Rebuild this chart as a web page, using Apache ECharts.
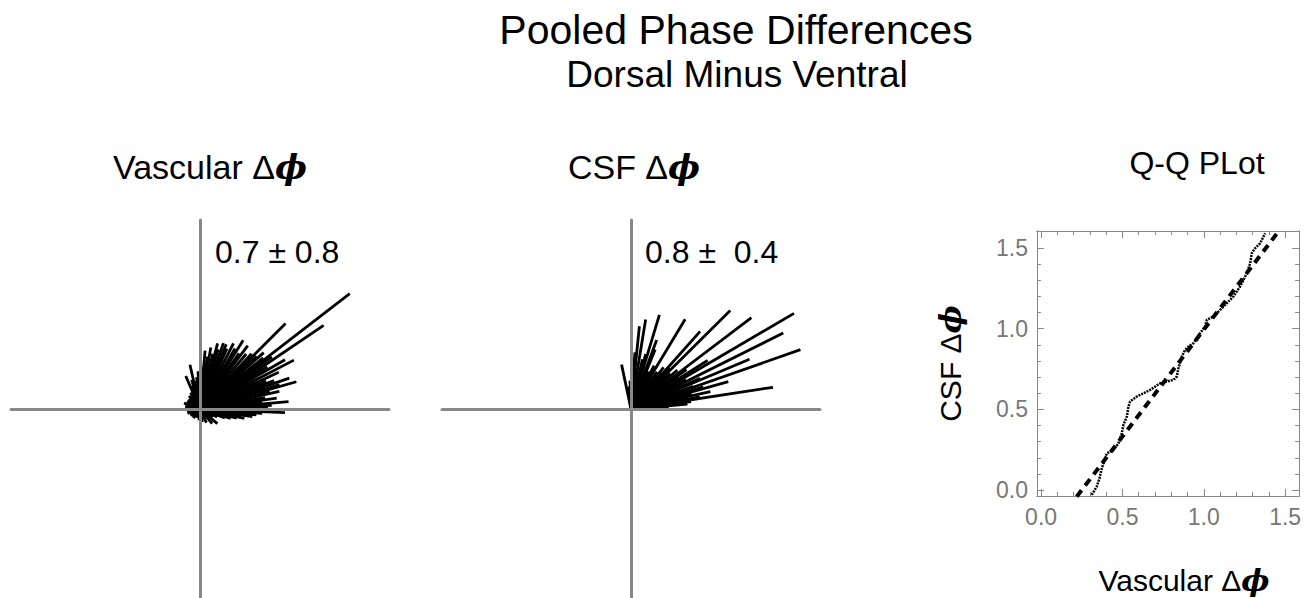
<!DOCTYPE html>
<html>
<head>
<meta charset="utf-8">
<script src="https://cdn.jsdelivr.net/npm/echarts@6/dist/echarts.min.js"></script>
<style>
html, body { margin: 0; padding: 0; background: #fff; }
#main { width: 1316px; height: 598px; }
</style>
</head>
<body>
<div id="main"></div>
<script>
// vascular phase differences: angle (deg) and length of each ray
const vascAngle = [37.6, 34.1, 45.0, 27.5, 30.1, 15.8, 19.1, 4.7, -2.5, 41.5, 12.5, 57.9, 63.0, 70.4, 85.0, 102.8, 113.4, -8.4,
  -30, -25, -20, -17, -14, -12, -10, -6, -4, -1, 1, 3, 6, 8, 10, 14, 17, 21, 23, 25, 32, 36, 39, 43,
  47, 50, 53, 55, 60, 66, 68, 73, 75, 77, 80, 82, 88, 90, 93, 96, 100, 106, 110,
  120, 130, 140, 150, 160, 170, 180, 190, 200, 210, 220, 235, 250, 265, 280, 295, 310, 320]
const vascLen = [1.0, 0.79, 0.64, 0.56, 0.52, 0.53, 0.5, 0.47, 0.45, 0.45, 0.43, 0.43, 0.39, 0.37, 0.31, 0.24, 0.19, 0.28,
  0.08, 0.1, 0.14, 0.17, 0.2, 0.24, 0.22, 0.3, 0.33, 0.38, 0.36, 0.38, 0.33, 0.41, 0.35, 0.38, 0.44, 0.42, 0.38, 0.46, 0.42, 0.47, 0.43, 0.41,
  0.4, 0.38, 0.42, 0.36, 0.37, 0.35, 0.37, 0.33, 0.36, 0.3, 0.33, 0.28, 0.22, 0.25, 0.2, 0.17, 0.15, 0.16, 0.13,
  0.1, 0.09, 0.08, 0.08, 0.09, 0.08, 0.08, 0.07, 0.07, 0.06, 0.06, 0.06, 0.05, 0.06, 0.07, 0.08, 0.1, 0.12]

// CSF phase differences
const csfAngle = [30.4, 19.3, 26.5, 37.2, 44.8, 8.7, 22.8, 15.7, 12.4, 32.4, 48.3, 58.9, 73.2, 80.7, 84.2, 69.6, 67.9, 102, 35.3,
  3, 5, 7, 10, 14, 17, 20, 24, 28, 34, 40, 42, 46, 50, 52, 55, 62, 65, 75, 77, 86, 88, 90, 92, 95, 98]
const csfLen = [1.0, 0.95, 0.9, 0.8, 0.74, 0.76, 0.68, 0.535, 0.43, 0.48, 0.55, 0.555, 0.52, 0.48, 0.44, 0.39, 0.34, 0.24, 0.36,
  0.2, 0.3, 0.32, 0.37, 0.33, 0.4, 0.35, 0.4, 0.33, 0.3, 0.32, 0.28, 0.3, 0.25, 0.28, 0.24, 0.26, 0.22, 0.3, 0.27, 0.3, 0.25, 0.2, 0.15, 0.12, 0.1]

// Q-Q plot: vascular quantiles vs CSF quantiles
const qqX = [0.311, 0.342, 0.359, 0.373, 0.393, 0.404, 0.445, 0.475, 0.496, 0.506, 0.527, 0.537, 0.547, 0.588, 0.629, 0.670,
  0.731, 0.772, 0.813, 0.834, 0.844, 0.865, 0.885, 0.906, 0.936, 0.977, 1.008, 1.018, 1.059, 1.100, 1.141, 1.182,
  1.223, 1.244, 1.264, 1.285, 1.295, 1.315, 1.346, 1.377]
const qqY = [-0.03, 0.021, 0.072, 0.134, 0.196, 0.227, 0.248, 0.289, 0.351, 0.403, 0.455, 0.517, 0.548, 0.579, 0.599, 0.620,
  0.661, 0.672, 0.682, 0.703, 0.754, 0.827, 0.868, 0.889, 0.909, 0.971, 1.013, 1.054, 1.075, 1.116, 1.157, 1.199,
  1.261, 1.302, 1.343, 1.405, 1.467, 1.498, 1.529, 1.591]
const refX = [0.219, 1.459]
const refY = [-0.041, 1.602]

const majorTicks = [0, 0.5, 1.0, 1.5]
const minorTicks = [0.1, 0.2, 0.3, 0.4, 0.6, 0.7, 0.8, 0.9, 1.1, 1.2, 1.3, 1.4]

const FONT = '"Liberation Sans", Arial, sans-serif'
const PHI = { fontFamily: '"DejaVu Serif", serif', fontStyle: 'italic', fontWeight: 'bold' }

function rays(angles, lens) {
  return angles.map((a, i) => {
    const t = a * Math.PI / 180
    return { coords: [[0, 0], [lens[i] * Math.cos(t), lens[i] * Math.sin(t)]] }
  })
}

function crossAxis(gridIndex) {
  return {
    gridIndex: gridIndex,
    type: 'value',
    min: -1,
    max: 1,
    z: 5,
    axisLine: { show: true, onZero: true, lineStyle: { color: '#888', width: 3 } },
    axisTick: { show: false },
    axisLabel: { show: false },
    splitLine: { show: false }
  }
}

function frameAxis(pos, min, max, ticks, len, labels) {
  return {
    gridIndex: 2,
    type: 'value',
    position: pos,
    min: min,
    max: max,
    axisLine: { show: true, onZero: false, lineStyle: { color: '#888', width: 1 } },
    axisTick: { show: true, inside: true, length: len, customValues: ticks, lineStyle: { color: '#888', width: 1 } },
    axisLabel: labels ? {
      show: true, customValues: majorTicks, formatter: v => v.toFixed(1),
      color: '#777', fontSize: 23, fontFamily: FONT, margin: 9
    } : { show: false },
    splitLine: { show: false }
  }
}

const chart = echarts.init(document.getElementById('main'), null, { renderer: 'svg' })

const XMIN = -0.025, XMAX = 1.585, YMIN = -0.037, YMAX = 1.605

const option = {
  animation: false,
  backgroundColor: '#fff',
  grid: [
    { left: 11, top: 220, width: 378, height: 378 },
    { left: 442, top: 220, width: 378, height: 378 },
    { left: 1037, top: 231, width: 262, height: 265 }
  ],
  xAxis: [
    crossAxis(0),
    crossAxis(1),
    frameAxis('bottom', XMIN, XMAX, majorTicks, 7, true),
    frameAxis('bottom', XMIN, XMAX, minorTicks, 4, false),
    frameAxis('top', XMIN, XMAX, majorTicks, 7, false),
    frameAxis('top', XMIN, XMAX, minorTicks, 4, false)
  ],
  yAxis: [
    crossAxis(0),
    crossAxis(1),
    Object.assign(frameAxis('left', YMIN, YMAX, majorTicks, 7, true), {
      name: 'CSF Δ{p|ϕ}',
      nameLocation: 'middle',
      nameRotate: 90,
      nameGap: 72,
      nameTextStyle: { color: '#000', fontSize: 30, fontFamily: FONT, rich: { p: Object.assign({ fontSize: 30 }, PHI) } }
    }),
    frameAxis('left', YMIN, YMAX, minorTicks, 4, false),
    frameAxis('right', YMIN, YMAX, majorTicks, 7, false),
    frameAxis('right', YMIN, YMAX, minorTicks, 4, false)
  ],
  graphic: [
    { type: 'text', x: 736, y: 30, style: { text: 'Pooled Phase Differences', fontSize: 41, fontFamily: FONT, fill: '#000', align: 'center', verticalAlign: 'middle' } },
    { type: 'text', x: 737, y: 74, style: { text: 'Dorsal Minus Ventral', fontSize: 37, fontFamily: FONT, fill: '#000', align: 'center', verticalAlign: 'middle' } },
    { type: 'text', x: 210, y: 167, style: { text: 'Vascular Δ{p|ϕ}', fontSize: 34, fontFamily: FONT, fill: '#000', align: 'center', verticalAlign: 'middle', rich: { p: Object.assign({ fontSize: 34 }, PHI) } } },
    { type: 'text', x: 634, y: 167, style: { text: 'CSF Δ{p|ϕ}', fontSize: 34, fontFamily: FONT, fill: '#000', align: 'center', verticalAlign: 'middle', rich: { p: Object.assign({ fontSize: 34 }, PHI) } } },
    { type: 'text', x: 1197, y: 163, style: { text: 'Q-Q PLot', fontSize: 32, fontFamily: FONT, fill: '#000', align: 'center', verticalAlign: 'middle' } },
    { type: 'text', x: 215, y: 252, style: { text: '0.7 ± 0.8', fontSize: 32, fontFamily: FONT, fill: '#000', align: 'left', verticalAlign: 'middle' } },
    { type: 'text', x: 645, y: 252, style: { text: '0.8 ±  0.4', fontSize: 32, fontFamily: FONT, fill: '#000', align: 'left', verticalAlign: 'middle' } },
    { type: 'text', x: 1184, y: 580, style: { text: 'Vascular Δ{p|ϕ}', fontSize: 30, fontFamily: FONT, fill: '#000', align: 'center', verticalAlign: 'middle', rich: { p: Object.assign({ fontSize: 30 }, PHI) } } }
  ],
  series: [
    {
      name: 'Vascular',
      type: 'lines',
      coordinateSystem: 'cartesian2d',
      xAxisIndex: 0,
      yAxisIndex: 0,
      lineStyle: { color: '#000', width: 2.8, opacity: 1 },
      data: rays(vascAngle, vascLen)
    },
    {
      name: 'CSF',
      type: 'lines',
      coordinateSystem: 'cartesian2d',
      xAxisIndex: 1,
      yAxisIndex: 1,
      lineStyle: { color: '#000', width: 2.8, opacity: 1 },
      data: rays(csfAngle, csfLen)
    },
    {
      name: 'Reference',
      type: 'line',
      xAxisIndex: 2,
      yAxisIndex: 2,
      showSymbol: false,
      lineStyle: { color: '#000', width: 4, type: [8, 6] },
      data: refX.map((x, i) => [x, refY[i]])
    },
    {
      name: 'Quantiles',
      type: 'line',
      xAxisIndex: 2,
      yAxisIndex: 2,
      showSymbol: false,
      lineStyle: { color: '#000', width: 2.5, type: [2, 1] },
      data: qqX.map((x, i) => [x, qqY[i]])
    }
  ]
}

chart.setOption(option)
</script>
</body>
</html>
